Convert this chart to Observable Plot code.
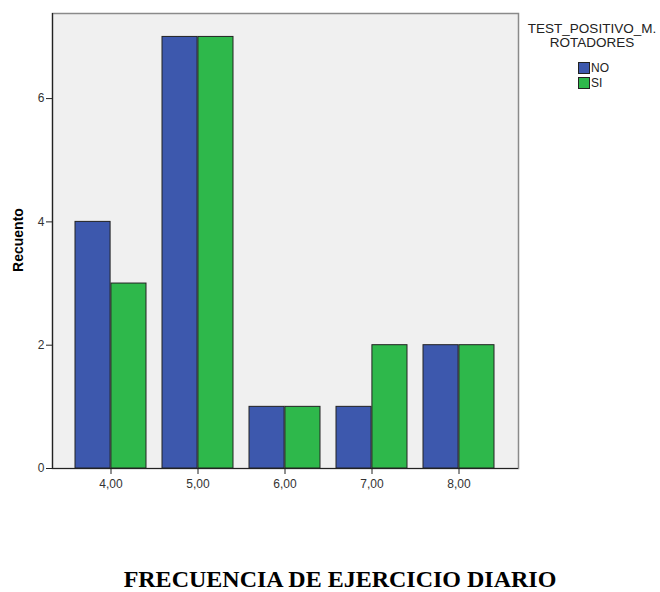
<!DOCTYPE html>
<html>
<head>
<meta charset="utf-8">
<script src="https://cdn.jsdelivr.net/npm/d3@7"></script>
<script src="https://cdn.jsdelivr.net/npm/@observablehq/plot@0.6"></script>
<style>
  html, body { margin: 0; padding: 0; background: #fff; }
  #wrap { position: relative; width: 660px; height: 592px; font-family: "Liberation Sans", Arial, sans-serif; overflow: hidden; }
  #chart { position: absolute; left: 0; top: 0; }
  #ylab { position: absolute; left: 18px; top: 240px; transform: translate(-50%, -50%) rotate(-90deg); font-weight: bold; font-size: 14px; color: #000; white-space: nowrap; }
  #legend { position: absolute; left: 522px; top: 22px; width: 140px; font-size: 13.5px; color: #222; }
  #legend .ttl { text-align: center; line-height: 14px; }
  #legend .row { display: flex; align-items: center; margin-left: 56px; height: 15px; font-size: 12px; }
  #legend .row:first-of-type { margin-top: 0; }
  #legend .rows { margin-top: 10px; }
  #legend .sw { width: 10px; height: 10px; border: 1px solid #222; margin-right: 1px; }
  #title { position: absolute; left: 0; width: 680px; text-align: center; top: 566px; font-family: "Liberation Serif", "Times New Roman", serif; font-weight: bold; font-size: 24px; color: #000; white-space: nowrap; }
</style>
</head>
<body>
<div id="wrap">
  <div id="chart"></div>
  <div id="ylab">Recuento</div>
  <div id="legend"></div>
  <div id="title">FRECUENCIA DE EJERCICIO DIARIO</div>
</div>
<script>
const categories = ["4,00", "5,00", "6,00", "7,00", "8,00"];
const groups = ["NO", "SI"];
const noValues = [4, 7, 1, 1, 2];
const siValues = [3, 7, 1, 2, 2];
const colors = ["#3d58ad", "#2eb84b"];
const yTicks = [0, 2, 4, 6];
const legendTitle = ["TEST_POSITIVO_M.", "ROTADORES"];

const data = [];
categories.forEach((c, i) => {
  data.push({cat: c, group: "NO", count: noValues[i]});
  data.push({cat: c, group: "SI", count: siValues[i]});
});

const W = 660, H = 500, mL = 52, mR = 142, mT = 13, mB = 32;
const pIn = 0.18, pOut = 0.25;
const step = (W - mL - mR) / (categories.length - pIn + 2 * pOut);
const half = step * (1 - pIn) / 2;

const chart = Plot.plot({
  width: W, height: H,
  marginLeft: mL, marginRight: mR, marginTop: mT, marginBottom: mB,
  style: {fontFamily: "Liberation Sans, Arial, sans-serif", fontSize: "12px", color: "#333", background: "transparent"},
  x: {domain: categories, paddingInner: pIn, paddingOuter: pOut, label: null},
  y: {domain: [0, 7.38], label: null},
  color: {domain: groups, range: colors},
  marks: [
    Plot.frame({fill: "#f0f0f0", stroke: "#8a8a8a", strokeWidth: 1.5}),
    Plot.barY(data.filter(d => d.group === "NO"), {x: "cat", y: "count", fill: "group", stroke: "#222", strokeWidth: 1, insetRight: half}),
    Plot.barY(data.filter(d => d.group === "SI"), {x: "cat", y: "count", fill: "group", stroke: "#222", strokeWidth: 1, insetLeft: half}),
    Plot.frame({anchor: "left", stroke: "#222", strokeWidth: 1.2}),
    Plot.ruleY([0], {stroke: "#222", strokeWidth: 1.2}),
    Plot.axisY({ticks: yTicks, tickFormat: d => d, tickSize: 6, tickPadding: 2, stroke: "#222"}),
    Plot.axisX({tickSize: 6, tickPadding: 5, stroke: "#222"})
  ]
});
document.getElementById("chart").appendChild(chart);

const lg = document.getElementById("legend");
lg.innerHTML = `<div class="ttl">${legendTitle.join("<br>")}</div><div class="rows">` +
  groups.map((g, i) => `<div class="row"><div class="sw" style="background:${colors[i]}"></div>${g}</div>`).join("") + `</div>`;
</script>
</body>
</html>
